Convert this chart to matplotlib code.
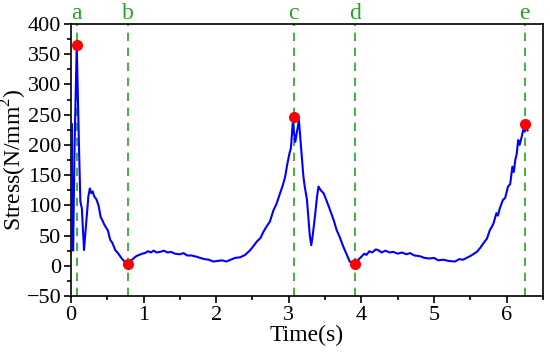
import matplotlib
matplotlib.use("Agg")
import matplotlib.pyplot as plt
from matplotlib.ticker import MultipleLocator

time_s = [0.00, 0.01, 0.02, 0.03, 0.05, 0.08, 0.11, 0.13, 0.15, 0.18, 0.21, 0.24, 0.26, 0.28,
          0.30, 0.32, 0.35, 0.38, 0.41, 0.43, 0.46, 0.49, 0.51, 0.54, 0.57, 0.61, 0.64, 0.67,
          0.70, 0.73, 0.78, 0.82, 0.86, 0.90, 0.94, 0.98, 1.02, 1.06, 1.10, 1.14, 1.18, 1.23,
          1.28, 1.33, 1.38, 1.43, 1.50, 1.55, 1.60, 1.66, 1.73, 1.78, 1.84, 1.90, 1.96, 2.02,
          2.08, 2.14, 2.20, 2.26, 2.33, 2.40, 2.47, 2.51, 2.56, 2.61, 2.65, 2.70, 2.74, 2.79,
          2.83, 2.88, 2.92, 2.95, 2.98, 3.01, 3.03, 3.055, 3.09, 3.14, 3.18, 3.20, 3.22, 3.25,
          3.27, 3.29, 3.31, 3.33, 3.36, 3.39, 3.41, 3.44, 3.48, 3.52, 3.57, 3.62, 3.66, 3.70,
          3.75, 3.80, 3.84, 3.91, 3.96, 4.00, 4.04, 4.07, 4.11, 4.15, 4.20, 4.23, 4.28, 4.33,
          4.39, 4.44, 4.50, 4.56, 4.62, 4.67, 4.73, 4.80, 4.87, 4.94, 5.00, 5.06, 5.13, 5.20,
          5.29, 5.35, 5.40, 5.45, 5.50, 5.55, 5.59, 5.64, 5.68, 5.73, 5.77, 5.80, 5.82, 5.86,
          5.88, 5.91, 5.95, 5.98, 6.02, 6.05, 6.08, 6.10, 6.12, 6.14, 6.16, 6.18, 6.21, 6.23,
          6.25, 6.27, 6.29]
stress = [20, 235, 40, 25, 200, 365, 200, 106, 95, 26, 70, 115, 128, 120,
          123, 115, 110, 100, 80, 76, 68, 62, 58, 43, 38, 26, 22, 17,
          12, 8, 3, 8, 12, 16, 18, 20, 21, 24, 22, 25, 22, 23,
          25, 22, 23, 20, 19, 21, 17, 17, 15, 13, 11, 10, 7, 8,
          9, 7, 10, 13, 14, 18, 26, 32, 40, 46, 56, 66, 73, 92,
          102, 120, 134, 147, 168, 186, 195, 236, 205, 241, 180, 150, 131, 110,
          81, 50, 34, 50, 81, 115, 131, 125, 120, 108, 92, 75, 59, 48,
          32, 18, 7, 4, 10, 15, 20, 18, 24, 22, 27, 26, 22, 25,
          22, 23, 20, 22, 19, 21, 17, 16, 13, 12, 13, 9, 10, 8,
          7, 11, 10, 13, 16, 20, 23, 30, 37, 45, 59, 65, 70, 87,
          83, 96, 109, 112, 131, 135, 164, 155, 175, 185, 208, 200, 214, 225,
          222, 228, 224]

event_labels = ["a", "b", "c", "d", "e"]
event_x = [0.08, 0.79, 3.07, 3.91, 6.25]
event_y = [365, 3, 246, 3, 234]

plt.rcParams['font.family'] = ['Liberation Serif', 'DejaVu Serif']
plt.rcParams['mathtext.fontset'] = 'custom'
plt.rcParams['mathtext.rm'] = 'Liberation Serif'

fig = plt.figure(figsize=(5.5, 3.53), dpi=100)
ax = fig.add_axes([0.129, 0.1615, 0.858, 0.7705])

ax.plot(time_s, stress, color='#0000ff', lw=1.5, zorder=3)
for lab, xv in zip(event_labels, event_x):
    ax.axvline(xv, color='#22a622', lw=1.2, ls=(0, (5, 4)), zorder=2)
    ax.text(xv, 1.0, lab, transform=ax.get_xaxis_transform(), ha='center', va='bottom',
            color='#22a622', fontsize=17)
ax.plot(event_x, event_y, 'o', color='red', ms=7, zorder=4)

ax.set_xlim(0, 6.5)
ax.set_ylim(-50, 400)
ax.xaxis.set_major_locator(MultipleLocator(1))
ax.xaxis.set_minor_locator(MultipleLocator(0.5))
ax.yaxis.set_major_locator(MultipleLocator(50))
ax.yaxis.set_minor_locator(MultipleLocator(25))
ax.tick_params(which='both', direction='out', top=False, right=False, labelsize=16, width=1.2)
ax.tick_params(which='major', length=5, pad=2)
ax.tick_params(which='minor', length=3)
for s in ax.spines.values():
    s.set_linewidth(1.2)

ax.set_xlabel('Time(s)', fontsize=17, labelpad=0)
ax.set_ylabel('Stress(N/mm$^2$)', fontsize=17, labelpad=-2)

fig.savefig('out.png', dpi=100)
